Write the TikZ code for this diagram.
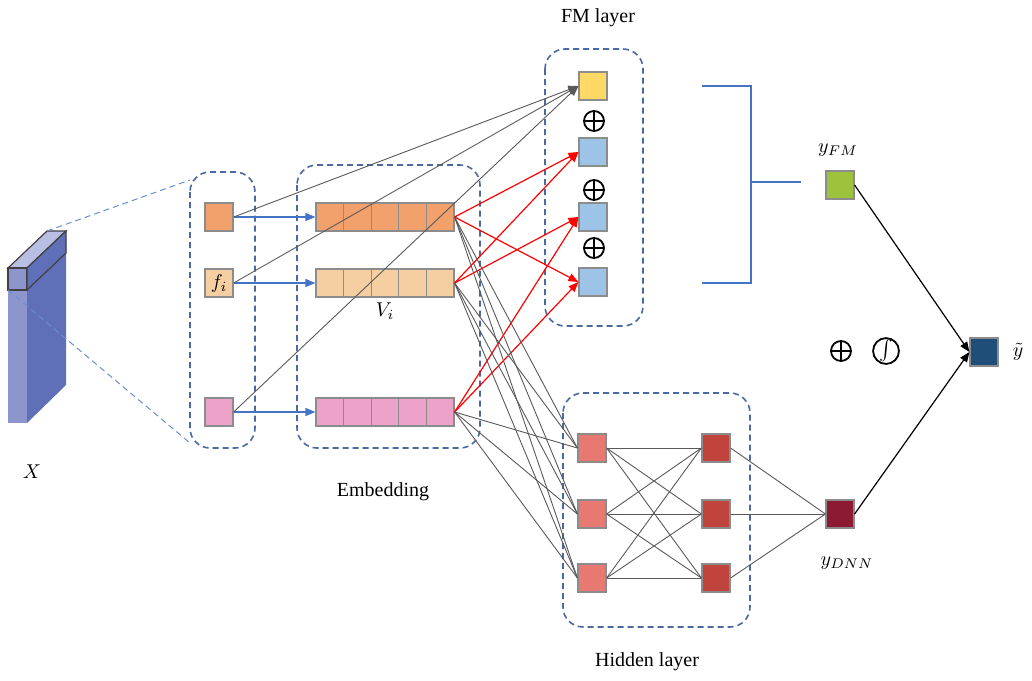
\documentclass[tikz,border=0pt]{standalone}
\usepackage{amsmath}
\usepackage{fontspec}
\setmainfont{Liberation Serif}
\usepackage{tikz}
\usetikzlibrary{arrows.meta}

\definecolor{grpblue}{HTML}{4A69A0}
\definecolor{arrblue}{HTML}{4472C4}
\definecolor{forange}{HTML}{F2A06C}
\definecolor{fpeach}{HTML}{F5CFA2}
\definecolor{fpink}{HTML}{EDA2C9}
\definecolor{fmyellow}{HTML}{FFD966}
\definecolor{fmblue}{HTML}{9DC3E6}
\definecolor{hidlight}{HTML}{E87872}
\definecolor{hiddark}{HTML}{C0433C}
\definecolor{dnnred}{HTML}{8B1A32}
\definecolor{fmgreen}{HTML}{9DC23C}
\definecolor{outblue}{HTML}{1F4E79}
\definecolor{xfront}{HTML}{8D96CC}
\definecolor{xside}{HTML}{6070B8}
\definecolor{xtop}{HTML}{B9BFE3}

\begin{document}
\begin{tikzpicture}[x=0.5pt,y=-0.5pt,
    cell/.style={draw=black!45, line width=0.6pt, minimum size=14pt, inner sep=0pt},
    grp/.style={draw=grpblue, dash pattern=on 3pt off 2pt, line width=0.8pt, rounded corners=10pt},
    conn/.style={draw=black!65, line width=0.45pt},
    inarrow/.style={draw=arrblue, line width=0.7pt, -{Triangle[length=5pt,width=4pt]}},
    redarrow/.style={draw=red, line width=0.6pt, -{Triangle[length=5pt,width=4pt]}},
    outarrow/.style={draw=black, line width=0.6pt, -{Triangle[length=5pt,width=4pt]}},
    lbl/.style={font=\fontsize{10}{12}\selectfont},
    plus/.style={circle, draw=black, line width=0.9pt, minimum size=10pt, inner sep=0pt,
      path picture={\draw[line width=0.9pt] (path picture bounding box.north) -- (path picture bounding box.south)
        (path picture bounding box.west) -- (path picture bounding box.east);}}]
\useasboundingbox (0,0) rectangle (1032,680);

% input X
\fill[xfront] (8,268) -- (27,268) -- (27,423) -- (8,423) -- cycle;
\fill[xside] (27,268) -- (66,231) -- (66,385) -- (27,423) -- cycle;
\filldraw[fill=xtop, draw=black!75, line width=0.6pt] (8,268) -- (47,231) -- (66,231) -- (27,268) -- cycle;
\filldraw[fill=xfront, draw=black!75, line width=0.6pt] (8,268) -- (27,268) -- (27,290) -- (8,290) -- cycle;
\filldraw[fill=xside, draw=black!75, line width=0.6pt] (27,268) -- (66,231) -- (66,253) -- (27,290) -- cycle;
\node[lbl] (xlabel) at (32,472) {$X$};

% groups
\draw[grp] (190,172) rectangle (255,448);
\draw[grp] (297,165) rectangle (480,448);
\draw[grp] (545,49) rectangle (643,326);
\draw[grp] (563,393) rectangle (750,627);
\coordinate (xtopc) at (47,231);
\coordinate (xbotc) at (8,290);
\coordinate (fbtop) at (190,180);
\coordinate (fbbot) at (190,443);
\draw[arrblue!80, dash pattern=on 3pt off 2pt, line width=0.5pt] (xtopc) -- (fbtop);
\draw[arrblue!80, dash pattern=on 3pt off 2pt, line width=0.5pt] (xbotc) -- (fbbot);

\node[lbl] (fmlabel) at (598,18) {FM layer};
\node[lbl] (emblabel) at (383,492) {Embedding};
\node[lbl] (hidlabel) at (647,662) {Hidden layer};

% fields
\node[cell, fill=forange] (f1) at (219,217) {};
\node[cell, fill=fpeach] (f2) at (219,283) {$f_i$};
\node[cell, fill=fpink] (f3) at (219,412) {};

% embedding vectors
\foreach \r/\y/\c in {1/217/forange, 2/283/fpeach, 3/412/fpink}
  \foreach \k in {1,...,5}
    \node[cell, fill=\c, minimum width=13.8pt] (e\r-\k) at ({302.2+27.6*\k},\y) {};
\node[lbl] (vlabel) at (385,311) {$V_i$};

% FM layer
\node[cell, fill=fmyellow] (fm1) at (593,86) {};
\node[cell, fill=fmblue] (fm2) at (593,152) {};
\node[cell, fill=fmblue] (fm3) at (593,217) {};
\node[cell, fill=fmblue] (fm4) at (593,282) {};
\node[plus] (p1) at (594,121) {};
\node[plus] (p2) at (594,190) {};
\node[plus] (p3) at (594,248) {};

% hidden layer
\foreach \h/\y in {1/448, 2/514, 3/578} {
  \node[cell, fill=hidlight] (h\h) at (592,\y) {};
  \node[cell, fill=hiddark] (g\h) at (716,\y) {};
}

% outputs
\node[cell, fill=fmgreen] (yfm) at (840,185) {};
\node[lbl] (yfmlabel) at (838,150) {$y_{FM}$};
\node[cell, fill=dnnred] (ydnn) at (840,514) {};
\node[lbl] (ydnnlabel) at (847,563) {$y_{DNN}$};
\node[cell, fill=outblue] (yout) at (984,352) {};
\node[lbl] (youtlabel) at (1018,352) {$\tilde{y}$};
\node[plus] (p4) at (841,351) {};
\node[circle, draw=black, line width=0.9pt, minimum size=11pt, inner sep=0pt] (sig) at (886,351) {$\int$};

% bracket
\draw[arrblue, line width=0.9pt] (702,86) -- (751,86) -- (751,283) -- (702,283);
\draw[arrblue, line width=0.9pt] (751,182) -- (801,182);

% connections
\foreach \r in {1,2,3} {
  \draw[inarrow] (f\r) -- (e\r-1);
  \draw[conn, -{Triangle[length=5pt,width=4pt]}] (f\r.east) -- (fm1.west);
}
\draw[redarrow] (e1-5.east) -- (fm2.west);
\draw[redarrow] (e2-5.east) -- (fm2.west);
\draw[redarrow] (e2-5.east) -- (fm3.west);
\draw[redarrow] (e3-5.east) -- (fm3.west);
\draw[redarrow] (e1-5.east) -- (fm4.west);
\draw[redarrow] (e3-5.east) -- (fm4.west);
\foreach \r in {1,2,3}
  \foreach \h in {1,2,3}
    \draw[conn] (e\r-5.east) -- (h\h.west);
\foreach \a in {1,2,3} {
  \foreach \b in {1,2,3}
    \draw[conn] (h\a.east) -- (g\b.west);
  \draw[conn] (g\a.east) -- (ydnn.west);
}
\draw[outarrow] (yfm.east) -- (yout.west);
\draw[outarrow] (ydnn.east) -- (yout.west);
\end{tikzpicture}
\end{document}
